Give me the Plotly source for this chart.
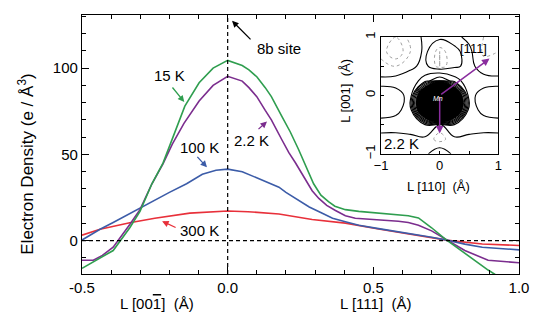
import plotly.graph_objects as go

# ---------------- main curves (Electron density along L) ----------------
x_15K = [-0.5, -0.45, -0.393, -0.336, -0.301, -0.26, -0.222, -0.19, -0.147, -0.098, -0.05, 0.0,
         0.05, 0.073, 0.1, 0.129, 0.15, 0.186, 0.215, 0.243, 0.262, 0.278, 0.295, 0.32, 0.346,
         0.368, 0.404, 0.45, 0.518, 0.586, 0.62, 0.655, 0.7, 0.746, 0.814, 0.894, 0.95, 1.0]
y_15K = [-16, -11, -5.7, 7.5, 17, 33, 45, 59, 78, 91.5, 100, 104.5,
         101.5, 99, 95, 88.7, 83.5, 72, 63, 53, 46, 40, 33, 26.4, 22.6,
         20, 18, 17, 16, 15.1, 14.5, 13.2, 7.5, 1, -7.5, -17, -23, -28]

x_22K = [-0.5, -0.461, -0.43, -0.393, -0.336, -0.301, -0.26, -0.222, -0.19, -0.15, -0.098, -0.05, 0.0,
         0.05, 0.073, 0.1, 0.129, 0.15, 0.186, 0.21, 0.232, 0.266, 0.29, 0.313, 0.34, 0.37,
         0.404, 0.438, 0.518, 0.586, 0.62, 0.655, 0.7, 0.757, 0.814, 0.894, 1.0]
y_22K = [-11.3, -11.3, -8.5, -3.8, 9.4, 18, 33, 44.5, 56, 68, 81, 90, 95.3,
         92.5, 88.7, 83.5, 75.5, 70, 58.5, 51, 45.3, 35.8, 29, 24.5, 20.5, 17.5,
         14.5, 13, 12.3, 11.3, 10.5, 9, 5.7, 0, -5.7, -11.3, -12.8]

x_100K = [-0.5, -0.438, -0.393, -0.301, -0.2, -0.141, -0.087, -0.04, 0.0, 0.05, 0.1, 0.141,
          0.176, 0.2, 0.244, 0.28, 0.323, 0.36, 0.404, 0.45, 0.518, 0.586, 0.65, 0.7,
          0.757, 0.814, 0.874, 1.0]
y_100K = [0.4, 6.6, 10.5, 18.9, 28, 33, 38.5, 40.8, 41.5, 40, 36.5, 33.5,
          31, 28, 23.6, 19.5, 16, 13, 11, 9, 7, 5.2, 3.5, 2,
          0.2, -2, -3.8, -5.3]

x_300K = [-0.5, -0.438, -0.336, -0.25, -0.13, -0.05, 0.0, 0.07, 0.141, 0.176, 0.29, 0.404,
          0.518, 0.6, 0.68, 0.757, 0.874, 1.0]
y_300K = [3.2, 6.6, 10.4, 13, 16, 17, 17.2, 16.8, 16, 15.5, 12.3, 10.2,
          6.8, 4.5, 2.5, 0.2, -1.9, -2.8]

series_names = ["300 K", "100 K", "2.2 K", "15 K"]
series_colors = ["#e8303a", "#3c5ca8", "#7b2d8e", "#2f9e4f"]

# ---------------- inset contour map (2.2 K) ----------------
inset_x = [-1.0, -0.75, -0.5, -0.25, 0.0, 0.25, 0.5, 0.75, 1.0]
inset_y = [-1.0, -0.75, -0.5, -0.25, 0.0, 0.25, 0.5, 0.75, 1.0]
inset_z = [
    [-0.3, -0.3, -0.3, -0.3,  1.0, -0.3, -0.3, -0.3, -0.3],
    [-0.3, -0.4, -0.3, -0.4, -1.4, -0.4, -0.3, -0.4, -0.3],
    [ 0.4,  0.5,  0.6,  2.0, -0.5,  2.0,  0.6,  0.5,  0.4],
    [-0.5, -0.3,  0.5, 25.0, 90.0, 25.0,  0.5, -0.3, -0.5],
    [-0.5, -0.5,  0.4, 25.0, 150.0, 25.0, 0.4, -0.5, -0.5],
    [ 0.3,  0.5,  0.8,  3.0,  6.0,  3.0,  0.8,  0.5,  0.3],
    [-0.8, -1.0, -0.3,  0.4, -1.5, -0.3,  0.4, -0.6, -0.6],
    [-1.2, -2.0, -1.0,  0.3, -1.5, -0.2,  0.3, -1.2, -1.0],
    [-1.0, -1.5, -0.8,  0.3,  0.3,  0.3, -0.3, -1.0, -1.0],
]

FONT = "Liberation Sans, Arial, Helvetica, sans-serif"

fig = go.Figure()

xs = [x_300K, x_100K, x_22K, x_15K]
ys = [y_300K, y_100K, y_22K, y_15K]
for name, col, xv, yv in zip(series_names, series_colors, xs, ys):
    fig.add_trace(go.Scatter(x=xv, y=yv, mode="lines", name=name,
                             line=dict(color=col, width=1.6),
                             showlegend=False, hoverinfo="skip",
                             xaxis="x", yaxis="y"))

# inset: black core (filled), positive contours (solid), negative (dotted)
fig.add_trace(go.Contour(x=inset_x, y=inset_y, z=inset_z, xaxis="x2", yaxis="y2",
                         contours=dict(type="constraint", operation="<", value=12),
                         fillcolor="black", line=dict(color="black", width=1, smoothing=1.2),
                         showscale=False, showlegend=False, hoverinfo="skip"))
fig.add_trace(go.Contour(x=inset_x, y=inset_y, z=inset_z, xaxis="x2", yaxis="y2",
                         autocontour=False,
                         contours=dict(start=0, end=10, size=2, coloring="lines"),
                         colorscale=[[0, "black"], [1, "black"]],
                         line=dict(width=1.1, smoothing=1.2),
                         showscale=False, showlegend=False, hoverinfo="skip"))
fig.add_trace(go.Contour(x=inset_x, y=inset_y, z=inset_z, xaxis="x2", yaxis="y2",
                         autocontour=False,
                         contours=dict(start=-2, end=-1, size=0.5, coloring="lines"),
                         colorscale=[[0, "#a0a0a0"], [1, "#a0a0a0"]],
                         line=dict(width=1, dash="dot", smoothing=1.2),
                         showscale=False, showlegend=False, hoverinfo="skip"))

axis_common = dict(showline=True, linecolor="black", linewidth=1.2, mirror="ticks",
                   ticks="inside", showgrid=False, zeroline=False,
                   tickcolor="black", tickfont=dict(family=FONT, size=15, color="black"))

fig.update_layout(
    width=538, height=331,
    margin=dict(l=82, r=18, t=9, b=57),
    showlegend=False,
    paper_bgcolor="white", plot_bgcolor="white",
    font=dict(family=FONT, size=15, color="black"),
    xaxis=dict(range=[-0.5, 1.0], tickvals=[-0.5, 0.0, 0.5, 1.0],
               ticktext=["-0.5", "0.0", "0.5", "1.0"], ticklen=7,
               minor=dict(dtick=0.1, ticklen=4, ticks="inside", tickcolor="black"),
               **axis_common),
    yaxis=dict(range=[-19.3, 130.8], tickvals=[0, 50, 100], ticklen=7,
               minor=dict(dtick=10, ticklen=4, ticks="inside", tickcolor="black"),
               **axis_common),
    xaxis2=dict(domain=[0.6843, 0.9527], anchor="y2", range=[-1, 1],
                showline=True, linecolor="black", linewidth=1, mirror=True,
                ticks="inside", ticklen=3, tickvals=[-1, 0, 1], tickcolor="black",
                minor=dict(dtick=0.5, ticklen=3, ticks="inside", tickcolor="black"),
                showgrid=False, zeroline=False,
                tickfont=dict(family=FONT, size=13, color="black")),
    yaxis2=dict(domain=[0.464, 0.915], anchor="x2", range=[-1, 1],
                showline=True, linecolor="black", linewidth=1, mirror=True,
                ticks="inside", ticklen=3, tickvals=[-1, 0, 1], tickcolor="black",
                minor=dict(dtick=0.5, ticklen=3, ticks="inside", tickcolor="black"),
                tickangle=-90, showgrid=False, zeroline=False,
                tickfont=dict(family=FONT, size=13, color="black")),
    shapes=[
        dict(type="line", xref="x", yref="paper", x0=0, x1=0, y0=0, y1=1,
             line=dict(color="black", width=1.2, dash="4px,3px")),
        dict(type="line", xref="paper", yref="y", x0=0, x1=1, y0=0, y1=0,
             line=dict(color="black", width=1.2, dash="4px,3px")),
    ],
)

ann = []
arrow_specs = [
    (0.015, 127.4, 20, 20, "black"),
    (-0.149, 80.4, -13, -16, series_colors[3]),
    (0.135, 69.1, -10, 9, series_colors[2]),
    (-0.071, 42.5, -11, -12, series_colors[1]),
    (-0.225, 11.3, 15, 7, series_colors[0]),
]
for hx, hy, axp, ayp, col in arrow_specs:
    ann.append(dict(x=hx, y=hy, xref="x", yref="y", ax=axp, ay=ayp, text="",
                    showarrow=True, arrowhead=2, arrowsize=1, arrowwidth=1.3,
                    arrowcolor=col, standoff=0, startstandoff=0))

labels = [
    ("8b site", 0.177, 111.6),
    ("15 K", -0.198, 95.7),
    ("2.2 K", 0.083, 57.8),
    ("100 K", -0.095, 53.8),
    ("300 K", -0.098, 5.7),
]
for t, lx, ly in labels:
    ann.append(dict(x=lx, y=ly, xref="x", yref="y", text=t, showarrow=False,
                    xanchor="center", yanchor="middle",
                    font=dict(family=FONT, size=15, color="black")))

ann.append(dict(x=0.1705, y=-0.113, xref="paper", yref="paper",
                text="L [00<span style='text-decoration:overline'>1</span>]\u00a0\u00a0(Å)",
                showarrow=False, xanchor="center", yanchor="middle",
                font=dict(family=FONT, size=15, color="black")))
ann.append(dict(x=0.671, y=-0.113, xref="paper", yref="paper",
                text="L [111]\u00a0\u00a0(Å)", showarrow=False,
                xanchor="center", yanchor="middle",
                font=dict(family=FONT, size=15, color="black")))
ann.append(dict(x=-0.130, y=0.4226, xref="paper", yref="paper",
                text="Electron Density (e / Å<sup>3</sup>)", textangle=-90,
                showarrow=False, xanchor="center", yanchor="middle",
                font=dict(family=FONT, size=17, color="black")))

ann.append(dict(x=0.815, y=0.336, xref="paper", yref="paper",
                text="L [110]\u00a0\u00a0(Å)", showarrow=False,
                xanchor="center", yanchor="middle",
                font=dict(family=FONT, size=13, color="black")))
ann.append(dict(x=0.604, y=0.707, xref="paper", yref="paper",
                text="L [001]\u00a0\u00a0(Å)", textangle=-90, showarrow=False,
                xanchor="center", yanchor="middle",
                font=dict(family=FONT, size=13, color="black")))
ann.append(dict(x=0.57, y=0.81, xref="x2", yref="y2", text="[111]", showarrow=False,
                xanchor="center", yanchor="middle",
                font=dict(family=FONT, size=13, color="black")))
ann.append(dict(x=-0.65, y=-0.82, xref="x2", yref="y2", text="2.2 K", showarrow=False,
                xanchor="center", yanchor="middle",
                font=dict(family=FONT, size=15, color="black")))
ann.append(dict(x=0.0, y=-0.65, xref="x2", yref="y2", ax=0.0, ay=0.0,
                axref="x2", ayref="y2", text="", showarrow=True, arrowhead=2,
                arrowsize=1, arrowwidth=1.5, arrowcolor="#8a2d9e", standoff=0))
ann.append(dict(x=0.85, y=0.63, xref="x2", yref="y2", ax=0.0, ay=0.0,
                axref="x2", ayref="y2", text="", showarrow=True, arrowhead=2,
                arrowsize=1, arrowwidth=1.5, arrowcolor="#8a2d9e", standoff=0))
ann.append(dict(x=-0.03, y=-0.05, xref="x2", yref="y2", text="<i>Mn</i>", showarrow=False,
                font=dict(family=FONT, size=7, color="white")))

fig.update_layout(annotations=ann)

fig.write_html("out.html", config={"displayModeBar": False})

# remove default page margin so the figure sits at the window's top-left corner
with open("out.html", "r", encoding="utf-8") as f:
    html = f.read()
html = html.replace("<head>", "<head><style>html,body{margin:0;padding:0;overflow:hidden;}</style>", 1)
with open("out.html", "w", encoding="utf-8") as f:
    f.write(html)
